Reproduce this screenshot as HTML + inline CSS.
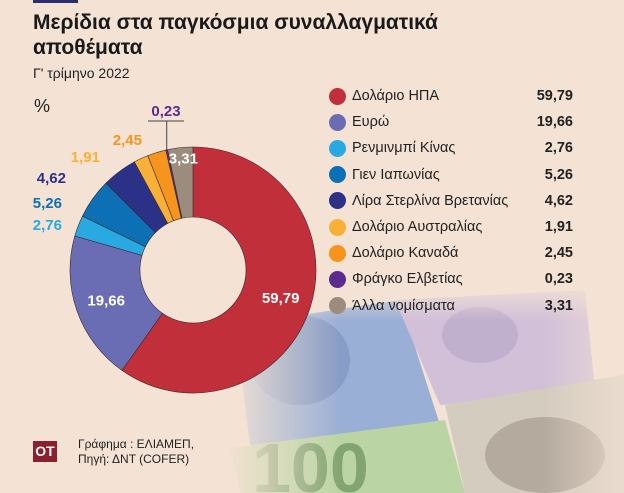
<!DOCTYPE html>
<html><head><meta charset="utf-8"><style>
html,body{margin:0;padding:0;width:624px;height:493px;overflow:hidden;}
#root{position:relative;width:624px;height:493px;overflow:hidden;background:#f4e3d4;font-family:"Liberation Sans","DejaVu Sans",sans-serif;}
.t{position:absolute;white-space:nowrap;}
svg{display:block;}
</style></head><body>
<div id="root">
<svg id="bg" width="624" height="493" style="position:absolute;left:0;top:0">
<defs>
<linearGradient id="fade" x1="0" y1="0" x2="1" y2="0"><stop offset="0" stop-color="#f4e3d4" stop-opacity="1"/><stop offset="0.3" stop-color="#f4e3d4" stop-opacity="0"/></linearGradient>
<linearGradient id="fadeT" x1="0" y1="0" x2="0" y2="1"><stop offset="0" stop-color="#f4e3d4" stop-opacity="1"/><stop offset="0.45" stop-color="#f4e3d4" stop-opacity="0"/></linearGradient>
<linearGradient id="fadeR" x1="0" y1="0" x2="1" y2="0"><stop offset="0.8" stop-color="#f4e3d4" stop-opacity="0"/><stop offset="1" stop-color="#f4e3d4" stop-opacity="0.7"/></linearGradient>
</defs>
<g opacity="0.85">
<polygon points="235,325 400,300 440,425 250,445" fill="#8aa6d6"/>
<polygon points="395,300 585,290 595,390 440,405" fill="#cbbbd9"/>
<polygon points="230,448 445,420 465,493 240,493" fill="#b2d29c"/>
<polygon points="445,405 624,375 624,493 465,493" fill="#cfc8bc"/>
<ellipse cx="545" cy="455" rx="60" ry="38" fill="#a9a195"/>
<ellipse cx="300" cy="360" rx="50" ry="45" fill="#7590c4"/>
<ellipse cx="480" cy="335" rx="38" ry="28" fill="#b9a8cc"/>
<text x="252" y="492" font-size="70" font-weight="bold" fill="#6f9a60" font-family="Liberation Sans">100</text>
</g>
<rect x="220" y="280" width="404" height="213" fill="url(#fade)"/>
<rect x="220" y="280" width="404" height="90" fill="url(#fadeT)"/>
<rect x="220" y="280" width="404" height="213" fill="url(#fadeR)"/>
</svg>

<div class="t" style="left:33px;top:0;width:45px;height:3px;background:#2b2d6e"></div>
<div class="t" style="left:33px;top:10px;font-size:21px;font-weight:bold;color:#1a1a1a;line-height:25px">Μερίδια στα παγκόσμια συναλλαγματικά<br>αποθέματα</div>
<div class="t" style="left:33px;top:65px;font-size:14px;color:#222">Γ' τρίμηνο 2022</div>
<div class="t" style="left:34px;top:96px;font-size:18px;color:#222">%</div>

<svg id="chart" width="624" height="493" style="position:absolute;left:0;top:0"></svg>

<div id="legend"></div>

<div class="t" style="left:33px;top:441px;width:24px;height:21px;background:#8a1f2e;color:#fff;font-weight:bold;font-size:14px;text-align:center;line-height:21px">OT</div>
<div class="t" style="left:78px;top:437px;font-size:12px;color:#222;line-height:15px">Γράφημα : ΕΛΙΑΜΕΠ,<br>Πηγή: ΔΝΤ (COFER)</div>
</div>
<script>
const categories=["Δολάριο ΗΠΑ","Ευρώ","Ρενμινμπί Κίνας","Γιεν Ιαπωνίας","Λίρα Στερλίνα Βρετανίας","Δολάριο Αυστραλίας","Δολάριο  Καναδά","Φράγκο Ελβετίας","Άλλα νομίσματα"];
const values=[59.79,19.66,2.76,5.26,4.62,1.91,2.45,0.23,3.31];
const labels=["59,79","19,66","2,76","5,26","4,62","1,91","2,45","0,23","3,31"];
const colors=["#c1303a","#6a6db4","#29a9e1","#0d6fb4","#2c3188","#f9b036","#f7941d","#5b2c8e","#9b8c7e"];
const slugs=["usd","eur","cny","jpy","gbp","aud","cad","chf","other"];

const NS="http://www.w3.org/2000/svg";
const svg=document.getElementById('chart');
const cx=193,cy=270,R=123,r=53;
const total=values.reduce((a,b)=>a+b,0);
function pt(a,rad){return [cx+rad*Math.sin(a),cy-rad*Math.cos(a)];}
function angle(v){return v/total*2*Math.PI;}
let acc=0;
const mids=[];
values.forEach((v,i)=>{
  const a0=angle(acc),a1=angle(acc+v);acc+=v;
  mids.push((a0+a1)/2);
  const p0=pt(a0,R),p1=pt(a1,R),q1=pt(a1,r),q0=pt(a0,r);
  const lg=(a1-a0)>Math.PI?1:0;
  const p=document.createElementNS(NS,'path');
  p.setAttribute('d',`M${p0[0]},${p0[1]} A${R},${R} 0 ${lg} 1 ${p1[0]},${p1[1]} L${q1[0]},${q1[1]} A${r},${r} 0 ${lg} 0 ${q0[0]},${q0[1]} Z`);
  p.setAttribute('fill',colors[i]);
  p.setAttribute('stroke','#3a2a2a');p.setAttribute('stroke-width','0.6');
  
  
  svg.appendChild(p);
});
function txt(x,y,s,fill,anchor,name){
  const t=document.createElementNS(NS,'text');
  t.setAttribute('x',x);t.setAttribute('y',y);t.setAttribute('fill',fill);
  t.setAttribute('font-size','15');t.setAttribute('font-weight','bold');
  t.setAttribute('text-anchor',anchor);t.setAttribute('font-family','Liberation Sans, sans-serif');
  t.textContent=s;
  
  
  svg.appendChild(t);
}
[0,1].forEach(i=>{const p=pt(mids[i],92);txt(p[0],p[1]+5,labels[i],'#fff','middle','value-label-'+slugs[i]);});
{const p=pt(mids[8],112);txt(p[0]+2,p[1]+5,labels[8],'#fff','middle','value-label-other');}
const outside=[[2,62,230],[3,62,208],[4,66,183],[5,100,162],[6,142,145]];
outside.forEach(([i,x,y])=>txt(x,y,labels[i],colors[i],'end','value-label-'+slugs[i]));
txt(166,116,labels[7],colors[7],'middle','value-label-chf');
const ln=document.createElementNS(NS,'path');
const pc=pt(mids[7],R);
ln.setAttribute('d',`M148,121 L184,121 M${pc[0]},121 L${pc[0]},${pc[1]}`);
ln.setAttribute('stroke','#444');ln.setAttribute('fill','none');ln.setAttribute('stroke-width','1');


svg.appendChild(ln);

const lg=document.getElementById('legend');
categories.forEach((c,i)=>{
  const y=96+i*26.2;
  const d=document.createElement('div');
  d.className='t';d.style.cssText=`left:329px;top:${y-8.5}px;width:17px;height:17px;border-radius:50%;background:${colors[i]}`;
  
  
  lg.appendChild(d);
  const l=document.createElement('div');
  l.className='t';l.style.cssText=`left:352px;top:${y-9}px;font-size:14.5px;color:#222;line-height:18px`;
  l.textContent=c;
  
  
  lg.appendChild(l);
  const v=document.createElement('div');
  v.className='t';v.style.cssText=`right:${624-573}px;top:${y-9}px;font-size:14.5px;font-weight:bold;color:#222;line-height:18px`;
  v.textContent=labels[i];
  
  
  lg.appendChild(v);
});
</script>
</body></html>
